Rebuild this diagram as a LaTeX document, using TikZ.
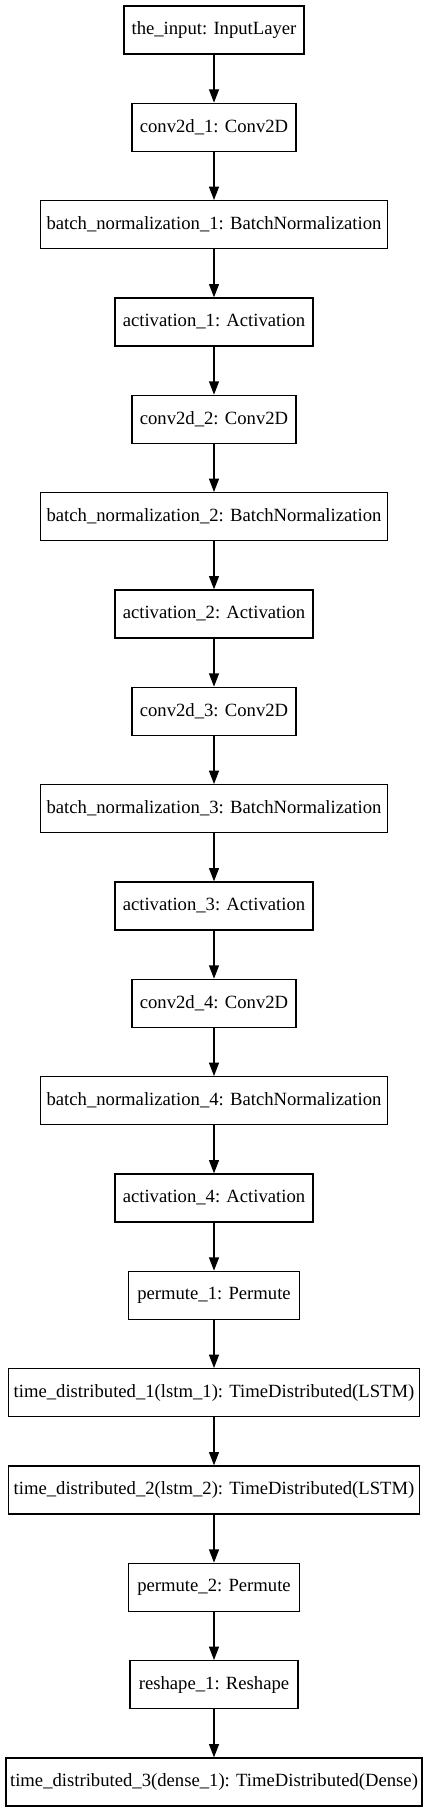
\documentclass[tikz,border=0pt]{standalone}
\usepackage{fontspec}
\setmainfont{Liberation Serif}
\usetikzlibrary{arrows.meta}
\begin{document}
\begin{tikzpicture}[x=1pt,y=1pt,
  layer/.style={draw=black, line width=1pt, fill=white, minimum height=36pt,
    inner sep=0pt, font=\fontsize{14pt}{16pt}\selectfont, text=black},
  flow/.style={draw=black, line width=1pt, -{Triangle[length=10pt,width=7.5pt]}}]
\useasboundingbox (0,0) rectangle (321,-1359);
\def\cx{160.5}
\node[layer, minimum width=135pt]    (n0)  at (\cx,{-22.5-73*0})  {the\_input: InputLayer};
\node[layer, minimum width=123pt]    (n1)  at (\cx,{-22.5-73*1})  {conv2d\_1: Conv2D};
\node[layer, minimum width=260.25pt] (n2)  at (\cx,{-22.5-73*2})  {batch\_normalization\_1: BatchNormalization};
\node[layer, minimum width=148.5pt]  (n3)  at (\cx,{-22.5-73*3})  {activation\_1: Activation};
\node[layer, minimum width=123pt]    (n4)  at (\cx,{-22.5-73*4})  {conv2d\_2: Conv2D};
\node[layer, minimum width=260.25pt] (n5)  at (\cx,{-22.5-73*5})  {batch\_normalization\_2: BatchNormalization};
\node[layer, minimum width=148.5pt]  (n6)  at (\cx,{-22.5-73*6})  {activation\_2: Activation};
\node[layer, minimum width=123pt]    (n7)  at (\cx,{-22.5-73*7})  {conv2d\_3: Conv2D};
\node[layer, minimum width=260.25pt] (n8)  at (\cx,{-22.5-73*8})  {batch\_normalization\_3: BatchNormalization};
\node[layer, minimum width=148.5pt]  (n9)  at (\cx,{-22.5-73*9})  {activation\_3: Activation};
\node[layer, minimum width=123pt]    (n10) at (\cx,{-22.5-73*10}) {conv2d\_4: Conv2D};
\node[layer, minimum width=260.25pt] (n11) at (\cx,{-22.5-73*11}) {batch\_normalization\_4: BatchNormalization};
\node[layer, minimum width=148.5pt]  (n12) at (\cx,{-22.5-73*12}) {activation\_4: Activation};
\node[layer, minimum width=128.25pt] (n13) at (\cx,{-22.5-73*13}) {permute\_1: Permute};
\node[layer, minimum width=308.25pt] (n14) at (\cx,{-22.5-73*14}) {time\_distributed\_1(lstm\_1): TimeDistributed(LSTM)};
\node[layer, minimum width=308.25pt] (n15) at (\cx,{-22.5-73*15}) {time\_distributed\_2(lstm\_2): TimeDistributed(LSTM)};
\node[layer, minimum width=128.25pt] (n16) at (\cx,{-22.5-73*16}) {permute\_2: Permute};
\node[layer, minimum width=126pt]    (n17) at (\cx,{-22.5-73*17}) {reshape\_1: Reshape};
\node[layer, minimum width=312pt]    (n18) at (\cx,{-22.5-73*18}) {time\_distributed\_3(dense\_1): TimeDistributed(Dense)};
\foreach \a [evaluate=\a as \b using int(\a+1)] in {0,...,17}
  \draw[flow] (n\a.south) -- (n\b.north);
\end{tikzpicture}
\end{document}
